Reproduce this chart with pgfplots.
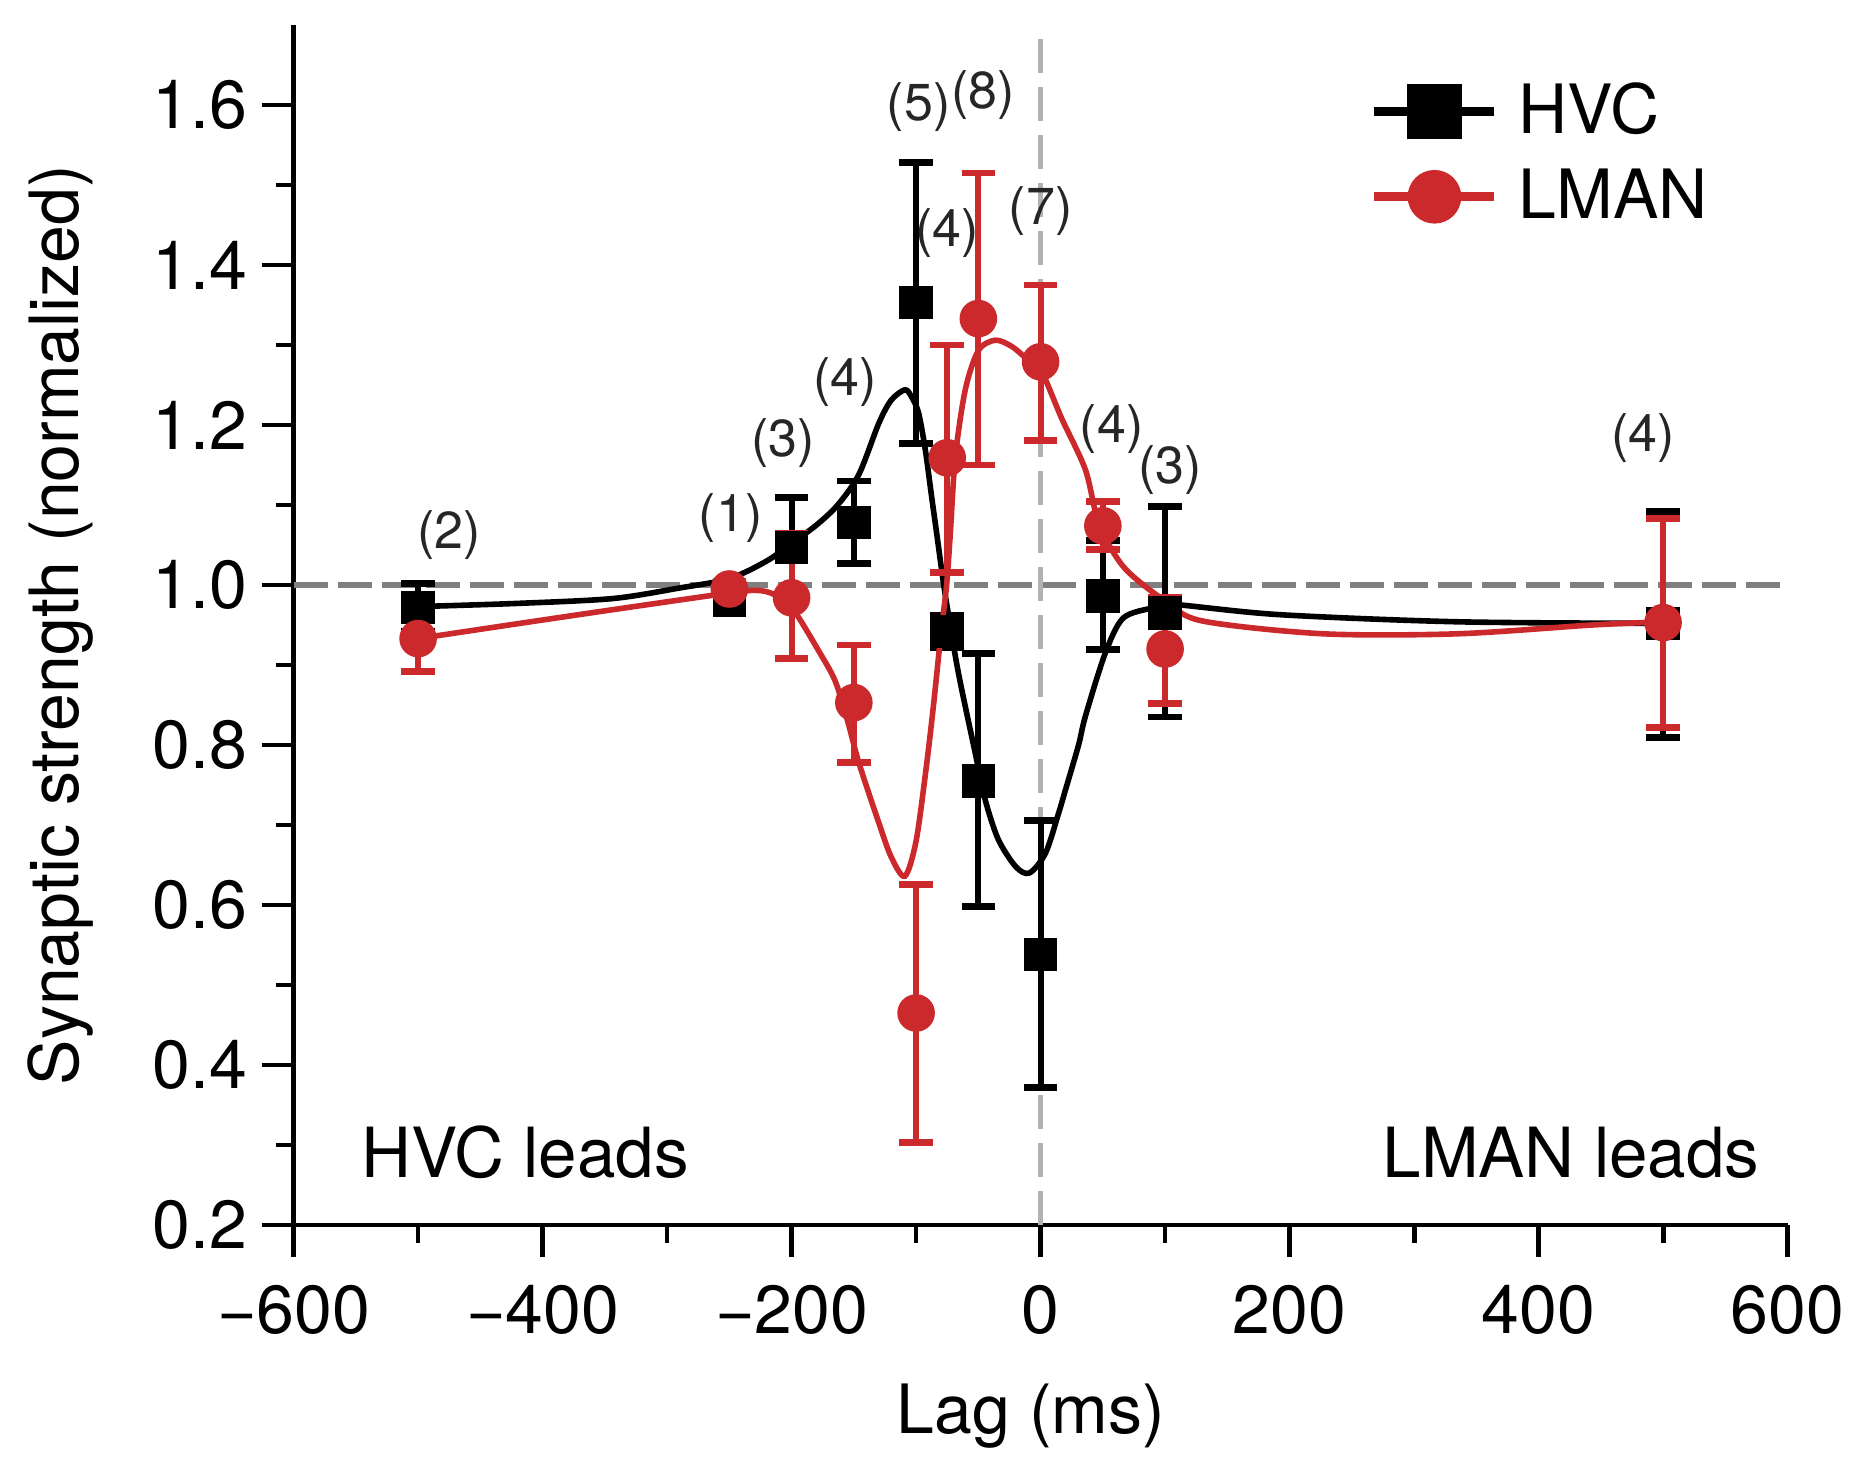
\documentclass[border=0pt]{standalone}
\usepackage{fontspec}
\setmainfont{TeX Gyre Heros}
\usepackage{pgfplots}
\usepackage{pgfplotstable}
\pgfplotsset{compat=1.18}
\definecolor{lmanred}{RGB}{204,41,45}
\definecolor{dashgrey}{RGB}{128,128,128}
\definecolor{vgrey}{RGB}{178,178,178}

\pgfplotstableread{
x y ep em
-500 0.972 0.030 0.030
-250 0.981 0.012 0.012
-200 1.047 0.062 0.060
-150 1.078 0.052 0.051
-100 1.353 0.175 0.176
-75 0.942 0.020 0.020
-50 0.755 0.159 0.157
0 0.538 0.168 0.166
50 0.986 0.070 0.067
100 0.965 0.133 0.130
500 0.952 0.140 0.143
}\hvcdata

\pgfplotstableread{
x y ep em
-500 0.933 0.042 0.041
-250 0.995 0.010 0.010
-200 0.984 0.081 0.076
-150 0.853 0.072 0.075
-100 0.465 0.161 0.162
-75 1.159 0.141 0.143
-50 1.333 0.182 0.183
0 1.279 0.096 0.098
50 1.074 0.030 0.030
100 0.920 0.065 0.068
500 0.953 0.130 0.131
}\lmandata

\pgfplotstableread{
x y
-500 0.973
-420 0.977
-344 0.983
-291 0.996
-250 1.008
-220 1.030
-200 1.052
-180 1.075
-163 1.100
-146 1.138
-130 1.202
-120 1.231
-109 1.244
-103.6 1.235
-98 1.215
-92.6 1.169
-87.5 1.110
-83.5 1.065
-79.5 1.019
-75.5 0.977
-66 0.890
-52.5 0.790
-44.4 0.731
-34 0.682
-20 0.648
-9 0.640
4 0.665
14.5 0.715
20 0.744
30.5 0.800
36 0.836
52 0.915
66.6 0.959
92 0.972
105 0.976
191 0.963
335 0.954
500 0.952
}\hvcfit

\pgfplotstableread{
x y
-500 0.933
-375 0.962
-250 0.990
-225 0.993
-210 0.985
-198 0.968
-178 0.917
-165 0.880
-155 0.830
-146 0.778
-130 0.703
-120 0.660
-109 0.636
-100 0.680
-92 0.770
-86 0.850
-80 0.940
-75.5 1.000
-72.5 1.065
-68.5 1.160
-60.5 1.244
-50 1.293
-36.4 1.306
-23 1.298
-10 1.281
1 1.266
17 1.208
36 1.144
47 1.076
67 1.022
100 0.980
130 0.955
227 0.939
335 0.939
443 0.950
500 0.954
}\lmanfit

\begin{document}
\begin{tikzpicture}
\begin{axis}[
  at={(73.4pt,58.25pt)}, anchor=south west,
  width=373.5pt, height=300pt, scale only axis,
  xmin=-600, xmax=600, ymin=0.2, ymax=1.7,
  axis x line*=bottom, axis y line*=left,
  axis line style={line width=1.2pt, -},
  tick style={line width=1.2pt, black},
  tick align=outside,
  major tick length=8pt, minor tick length=4.5pt,
  xtick={-600,-400,-200,0,200,400,600},
  xticklabels={−600,−400,−200,0,200,400,600},
  ytick={0.2,0.4,0.6,0.8,1.0,1.2,1.4,1.6},
  yticklabels={0.2,0.4,0.6,0.8,1.0,1.2,1.4,1.6},
  minor x tick num=1, minor y tick num=1,
  ticklabel style={font=\fontsize{17}{20}\selectfont},
  xticklabel style={yshift=-3.5pt},
  /pgf/number format/assume math mode=true,
  xlabel={Lag (ms)}, ylabel={Synaptic strength (normalized)},
  label style={font=\fontsize{17}{20}\selectfont},
  xlabel style={at={(axis description cs:0.4936,-0.1596)}, anchor=center},
  ylabel style={at={(axis description cs:-0.1557,0.5)}, anchor=center},
  clip=false,
  legend style={at={(axis description cs:0.72,0.959)}, anchor=north west,
    draw=none, fill=none, font=\fontsize{17}{20}\selectfont, row sep=3.3pt,
    inner sep=0pt, nodes={inner xsep=5pt}},
  legend cell align=left,
  legend image code/.code={\draw[mark repeat=2,mark phase=2,#1] plot coordinates {(0pt,0pt)(15pt,0pt)(30pt,0pt)};},
]
% reference lines
\addplot[forget plot, dashgrey, line width=1.6pt, dash pattern=on 8.5pt off 2.5pt] coordinates {(-600,1) (600,1)};
\addplot[forget plot, vgrey, line width=1.4pt, dash pattern=on 8.5pt off 3.5pt] coordinates {(0,0.2) (0,1.7)};

% HVC
\addplot[forget plot, black, line width=1.4pt, smooth, tension=0.5, no marks] table[x=x,y=y] {\hvcfit};
\addplot[forget plot, only marks, black, mark=square*, mark size=4pt, mark options={draw=none, fill=black},
  error bars/.cd, y dir=both, y explicit,
  error mark=-,
  error bar style={line width=1.5pt, black},
  error mark options={rotate=90, line width=1.7pt, mark size=4.2pt, black}]
  table[x=x, y=y, y error plus=ep, y error minus=em] {\hvcdata};

% LMAN
\addplot[forget plot, lmanred, line width=1.4pt, smooth, tension=0.5, no marks] table[x=x,y=y] {\lmanfit};
\addplot[forget plot, only marks, lmanred, mark=*, mark size=4.5pt, mark options={draw=none, fill=lmanred},
  error bars/.cd, y dir=both, y explicit,
  error mark=-,
  error bar style={line width=1.5pt, lmanred},
  error mark options={rotate=90, line width=1.7pt, mark size=4.2pt, lmanred}]
  table[x=x, y=y, y error plus=ep, y error minus=em] {\lmandata};

\addlegendimage{black, line width=2.2pt, mark=square*, mark size=5.8pt, mark options={draw=none, fill=black}}
\addlegendentry{HVC}
\addlegendimage{lmanred, line width=2.2pt, mark=*, mark size=5.6pt, mark options={draw=none, fill=lmanred}}
\addlegendentry{LMAN}

% sample-size annotations
\begin{scope}[every node/.style={font=\fontsize{13}{15}\selectfont, text=black!85, inner sep=0pt}]
\node at (axis cs:-475,1.062) {(2)};
\node at (axis cs:-249,1.084) {(1)};
\node at (axis cs:-207,1.177) {(3)};
\node at (axis cs:-157,1.254) {(4)};
\node at (axis cs:-98,1.598) {(5)};
\node at (axis cs:-46,1.612) {(8)};
\node at (axis cs:-75,1.440) {(4)};
\node at (axis cs:0,1.467) {(7)};
\node at (axis cs:57,1.195) {(4)};
\node at (axis cs:104,1.144) {(3)};
\node at (axis cs:484,1.184) {(4)};
\end{scope}
\node[font=\fontsize{17.3}{20}\selectfont, anchor=base, inner sep=0pt] at (axis cs:-414,0.259) {HVC leads};
\node[font=\fontsize{17.3}{20}\selectfont, anchor=base, inner sep=0pt] at (axis cs:426,0.259) {LMAN leads};
\end{axis}
\pgfresetboundingbox
\path[use as bounding box] (0,0) rectangle (464pt,364.5pt);
\end{tikzpicture}
\end{document}
